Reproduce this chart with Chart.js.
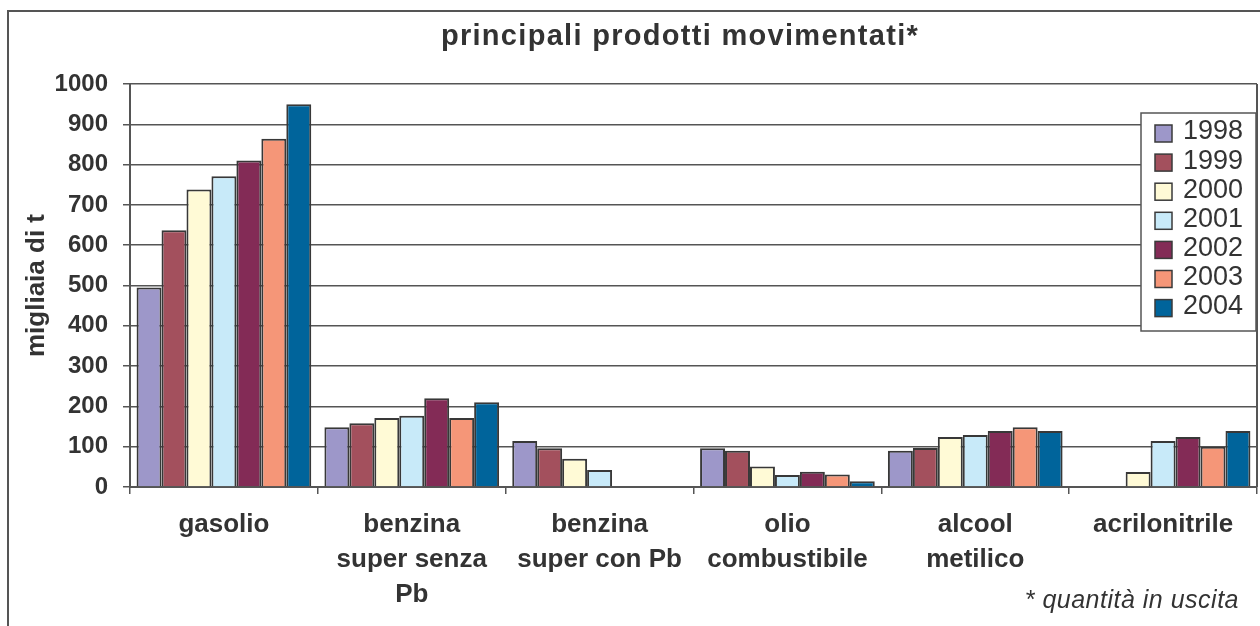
<!DOCTYPE html>
<html>
<head>
<meta charset="utf-8">
<script src="https://cdn.jsdelivr.net/npm/chart.js@4"></script>
<style>
  html, body { margin: 0; padding: 0; background: #fff; }
  #wrap { width: 1260px; height: 626px; position: relative; }
</style>
</head>
<body>
<div id="wrap"><canvas id="c"></canvas></div>
<script>
// ---- data ----
const TITLE = 'principali prodotti movimentati*';
const FOOTNOTE = '* quantità in uscita';
const Y_TITLE = 'migliaia di t';
const categories = [
  ['gasolio'],
  ['benzina', 'super senza', 'Pb'],
  ['benzina', 'super con Pb'],
  ['olio', 'combustibile'],
  ['alcool', 'metilico'],
  ['acrilonitrile']
];
const years = ['1998', '1999', '2000', '2001', '2002', '2003', '2004'];
const v1998 = [495, 148, 114, 96, 90, null];
const v1999 = [637, 158, 96, 90, 97, null];
const v2000 = [738, 171, 70, 51, 124, 37];
const v2001 = [771, 177, 42, 30, 129, 114];
const v2002 = [810, 220, null, 38, 139, 124];
const v2003 = [864, 171, null, 31, 148, 100];
const v2004 = [950, 210, null, 14, 139, 139];
const yTicks = [0, 100, 200, 300, 400, 500, 600, 700, 800, 900, 1000];

const seriesValues = [v1998, v1999, v2000, v2001, v2002, v2003, v2004];
const colors = ['#9d97c9', '#a3505d', '#fffad6', '#c8eaf9', '#832b56', '#f59678', '#00649b'];

const FONT = "'Liberation Sans', Arial, sans-serif";
const TXT = '#333333';
const LINE = '#555555';

const decor = {
  id: 'decor',
  beforeDraw(chart) {
    const ctx = chart.ctx;
    ctx.save();
    ctx.fillStyle = '#ffffff';
    ctx.fillRect(0, 0, chart.width, chart.height);
    // outer frame (top + left)
    ctx.strokeStyle = LINE;
    ctx.lineWidth = 2;
    ctx.beginPath();
    ctx.moveTo(8, chart.height + 2);
    ctx.lineTo(8, 11);
    ctx.lineTo(chart.width + 2, 11);
    ctx.stroke();
    ctx.restore();
  },
  afterDraw(chart) {
    const ctx = chart.ctx;
    const a = chart.chartArea;
    ctx.save();
    // right border of plot area
    ctx.strokeStyle = LINE;
    ctx.lineWidth = 2;
    ctx.beginPath();
    ctx.moveTo(a.right, a.top);
    ctx.lineTo(a.right, a.bottom);
    ctx.stroke();

    // title
    ctx.fillStyle = TXT;
    ctx.font = "bold 29px " + FONT;
    ctx.letterSpacing = '1.3px';
    ctx.textAlign = 'center';
    ctx.textBaseline = 'alphabetic';
    ctx.fillText(TITLE, 680, 45);

    // footnote
    ctx.font = "italic 25px " + FONT;
    ctx.letterSpacing = '0.5px';
    ctx.textAlign = 'right';
    ctx.fillText(FOOTNOTE, 1239, 608);
    ctx.letterSpacing = '0px';

    // legend box
    const bx = 1141, by = 113, bw = 115, bh = 218;
    ctx.fillStyle = '#ffffff';
    ctx.fillRect(bx, by, bw, bh);
    ctx.strokeStyle = LINE;
    ctx.lineWidth = 1.5;
    ctx.strokeRect(bx, by, bw, bh);
    ctx.font = "27px " + FONT;
    ctx.textAlign = 'left';
    ctx.textBaseline = 'middle';
    chart.data.datasets.forEach((ds, i) => {
      const y = 125 + i * 29.1;
      ctx.fillStyle = ds.backgroundColor;
      ctx.fillRect(1155, y, 17, 17);
      ctx.strokeStyle = '#3a3a3a';
      ctx.lineWidth = 1.5;
      ctx.strokeRect(1155, y, 17, 17);
      ctx.fillStyle = TXT;
      ctx.fillText(ds.label, 1183, y + 7);
    });
    ctx.restore();
  }
};

new Chart(document.getElementById('c'), {
  type: 'bar',
  data: {
    labels: categories,
    datasets: years.map((yr, i) => ({
      label: yr,
      data: seriesValues[i],
      backgroundColor: colors[i],
      borderColor: '#383838',
      borderWidth: 2,
      borderSkipped: 'bottom',
      categoryPercentage: 0.93,
      barPercentage: 1.0
    }))
  },
  options: {
    responsive: true,
    maintainAspectRatio: false,
    animation: false,
    layout: { padding: { left: 0, right: 3, top: 84, bottom: 0 } },
    plugins: {
      legend: { display: false },
      title: { display: false },
      tooltip: { enabled: false }
    },
    scales: {
      x: {
        afterFit(scale) { scale.height = 139; },
        grid: {
          offset: true,
          drawOnChartArea: false,
          drawTicks: true,
          tickLength: 7,
          color: LINE,
          lineWidth: 1.5
        },
        border: { display: true, color: LINE, width: 2 },
        ticks: {
          color: TXT,
          padding: 13,
          maxRotation: 0,
          autoSkip: false,
          font: { family: FONT, size: 26, weight: 'bold', lineHeight: 1.35 }
        }
      },
      y: {
        min: 0,
        max: 1000,
        afterFit(scale) { scale.width = 130; },
        afterBuildTicks(scale) { scale.ticks = yTicks.map(v => ({ value: v })); },
        grid: {
          color: LINE,
          lineWidth: 1.5,
          drawTicks: true,
          tickLength: 7
        },
        border: { display: true, color: LINE, width: 2 },
        ticks: {
          color: TXT,
          padding: 15,
          callback: (v) => String(v),
          font: { family: FONT, size: 24, weight: 'bold' }
        },
        title: {
          display: true,
          text: Y_TITLE,
          color: TXT,
          padding: { top: 21, bottom: 0 },
          font: { family: FONT, size: 26, weight: 'bold' }
        }
      }
    }
  },
  plugins: [decor]
});
</script>
</body>
</html>
